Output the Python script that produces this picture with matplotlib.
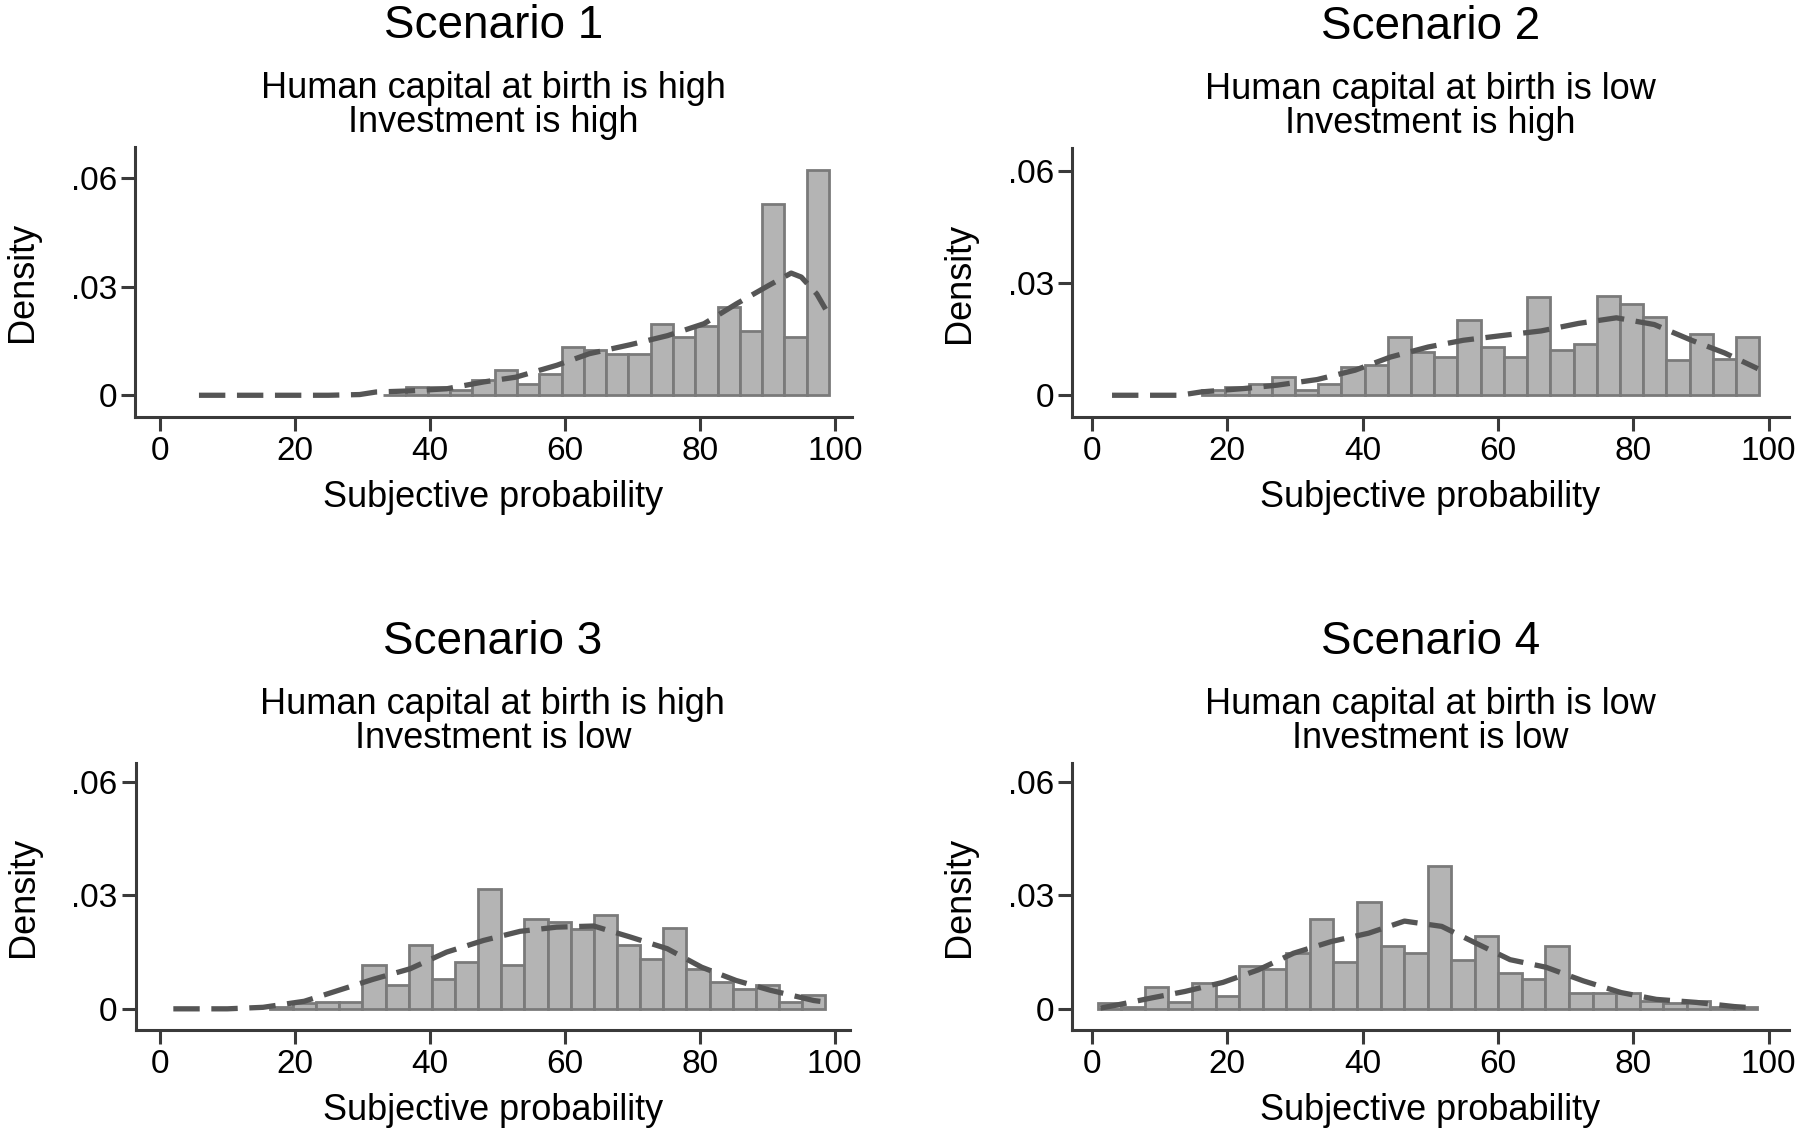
import numpy as np
import matplotlib
matplotlib.use("Agg")
import matplotlib.pyplot as plt

plt.rcParams['font.family'] = ['Liberation Sans', 'DejaVu Sans']

# ---- data ----
titles = ["Scenario 1", "Scenario 2", "Scenario 3", "Scenario 4"]
subtitles = [
    "Human capital at birth is high\nInvestment is high",
    "Human capital at birth is low\nInvestment is high",
    "Human capital at birth is high\nInvestment is low",
    "Human capital at birth is low\nInvestment is low",
]

# histogram bins: first left edge, bin width, bar heights (density)
s1_start, s1_width = 33.1, 3.3
s1_heights = [0.0, 0.0022, 0.0022, 0.0014, 0.0041, 0.0069, 0.0032, 0.006, 0.0133, 0.0125,
              0.0115, 0.0115, 0.0198, 0.0161, 0.0193, 0.0244, 0.0179, 0.053, 0.0161, 0.0622]

s2_start, s2_width = 16.3, 3.43
s2_heights = [0.0013, 0.0022, 0.0031, 0.0049, 0.0013, 0.0031, 0.0075, 0.008, 0.0156, 0.0116,
              0.0102, 0.020, 0.0129, 0.0102, 0.0263, 0.012, 0.0138, 0.0266, 0.0245, 0.021,
              0.0094, 0.0165, 0.0098, 0.0156]

s3_start, s3_width = 16.3, 3.43
s3_heights = [0.0005, 0.0015, 0.0018, 0.0018, 0.0117, 0.0062, 0.0168, 0.008, 0.0124, 0.0318,
              0.0117, 0.0238, 0.023, 0.0212, 0.0247, 0.017, 0.0132, 0.0214, 0.0106, 0.0071,
              0.0053, 0.0062, 0.0018, 0.0037]

s4_start, s4_width = 0.9, 3.48
s4_heights = [0.0015, 0.0004, 0.0059, 0.0017, 0.0068, 0.0033, 0.0114, 0.0105, 0.0147, 0.0237,
              0.0123, 0.0282, 0.0167, 0.0147, 0.0379, 0.013, 0.0192, 0.0094, 0.0079, 0.0167,
              0.0041, 0.0041, 0.0041, 0.002, 0.0015, 0.002, 0.0006, 0.0006]

# kernel density curves (dashed)
s1_kx = [5.8, 15, 25, 29.6, 32, 37, 42.5, 48, 52.7, 58.8, 63.6, 69.7, 75.2, 80.6, 85.4, 90.1, 93.5, 95.0, 97.3, 98.6]
s1_ky = [0.0, 0.0, 0.0, 0.0002, 0.0009, 0.0012, 0.0018, 0.0037, 0.005, 0.0083, 0.0115, 0.014,
         0.0165, 0.0198, 0.0253, 0.0303, 0.0338, 0.0327, 0.028, 0.0238]

s2_kx = [3.0, 13, 16.2, 22.5, 27.4, 33.3, 38.9, 44.1, 49.7, 54.9, 60.8, 66.4, 71.9, 77.5, 83.1, 88.6, 93.5, 98.4]
s2_ky = [0.0, 0.0, 0.0009, 0.0018, 0.0027, 0.0042, 0.0067, 0.0102, 0.0129, 0.0147, 0.016, 0.0172,
         0.0192, 0.0207, 0.0189, 0.0147, 0.0113, 0.0071]

s3_kx = [2.0, 10, 15.3, 21.4, 26.5, 31.6, 37.1, 42.5, 48, 53.4, 58.8, 64.3, 69.7, 75.2, 80.3, 85.4, 90.5, 96.9, 98.6]
s3_ky = [0.0, 0.0, 0.0004, 0.002, 0.0049, 0.0078, 0.0106, 0.015, 0.0181, 0.0205, 0.0216, 0.0219,
         0.019, 0.0159, 0.011, 0.0075, 0.0049, 0.0022, 0.0018]

s4_kx = [1.3, 3.7, 8.9, 13.8, 19.4, 24.6, 29.8, 35.4, 40.9, 46.2, 51.7, 56.6, 61.8, 67.1, 72.6, 78.2, 83.4, 89.3, 94.9, 98.2]
s4_ky = [0.0002, 0.001, 0.0029, 0.0046, 0.007, 0.0103, 0.0147, 0.0178, 0.02, 0.0232, 0.0218, 0.0175,
         0.013, 0.011, 0.0074, 0.0043, 0.0025, 0.0017, 0.0006, 0.0002]

x_ticks = [0, 20, 40, 60, 80, 100]
y_ticks = [0, 0.03, 0.06]
y_ticklabels = ["0", ".03", ".06"]

starts = [s1_start, s2_start, s3_start, s4_start]
widths = [s1_width, s2_width, s3_width, s4_width]
heights = [s1_heights, s2_heights, s3_heights, s4_heights]
kxs = [s1_kx, s2_kx, s3_kx, s4_kx]
kys = [s1_ky, s2_ky, s3_ky, s4_ky]

# ---- layout ----
W, H = 1800, 1138
fig = plt.figure(figsize=(W / 100, H / 100), dpi=100)

rects = [
    [0.0750, 0.6336, 0.3983, 0.2373],
    [0.5956, 0.6336, 0.3983, 0.2364],
    [0.0753, 0.0949, 0.3970, 0.2346],
    [0.5956, 0.0949, 0.3983, 0.2346],
]
xlims = [(-3.67, 102.5), (-2.9, 103.0), (-3.6, 102.3), (-2.9, 103.0)]
ylims = [(-0.006, 0.0687), (-0.0058, 0.0661), (-0.0056, 0.065), (-0.0056, 0.065)]

axis_col = "#3a3a3a"
bar_fill = "#b4b4b4"
bar_edge = "#7a7a7a"
line_col = "#555555"

for i in range(4):
    ax = fig.add_axes(rects[i])
    left_edges = starts[i] + widths[i] * np.arange(len(heights[i]))
    ax.bar(left_edges, heights[i], width=widths[i], align="edge",
           color=bar_fill, edgecolor=bar_edge, linewidth=2.0, zorder=2)
    ax.plot(kxs[i], kys[i], color=line_col, linewidth=3.8,
            dashes=(5.0, 2.2), solid_capstyle="butt", dash_capstyle="butt", zorder=3)

    ax.set_xlim(*xlims[i])
    ax.set_ylim(*ylims[i])
    ax.set_xticks(x_ticks)
    ax.set_yticks(y_ticks)
    ax.set_yticklabels(y_ticklabels)

    for sp in ["top", "right"]:
        ax.spines[sp].set_visible(False)
    for sp in ["left", "bottom"]:
        ax.spines[sp].set_color(axis_col)
        ax.spines[sp].set_linewidth(2.2)

    ax.tick_params(axis="both", colors=axis_col, width=2.2, length=10,
                   labelsize=24, labelcolor="black")
    ax.tick_params(axis="x", pad=4)
    ax.tick_params(axis="y", pad=3)

    ax.set_xlabel("Subjective probability", fontsize=26)
    ax.xaxis.set_label_coords(0.5, -0.235)
    ax.set_ylabel("Density", fontsize=26)
    ax.yaxis.set_label_coords(-0.1325, 0.5)

    ax.annotate(titles[i], xy=(0.5, 1.0), xycoords="axes fraction",
                xytext=(0, 109), textcoords="offset pixels",
                ha="center", va="baseline", fontsize=33)
    ax.annotate(subtitles[i], xy=(0.5, 1.0), xycoords="axes fraction",
                xytext=(0, 15), textcoords="offset pixels",
                ha="center", va="baseline", fontsize=26, linespacing=0.95)

fig.savefig("out.png", dpi=100, facecolor="white")
